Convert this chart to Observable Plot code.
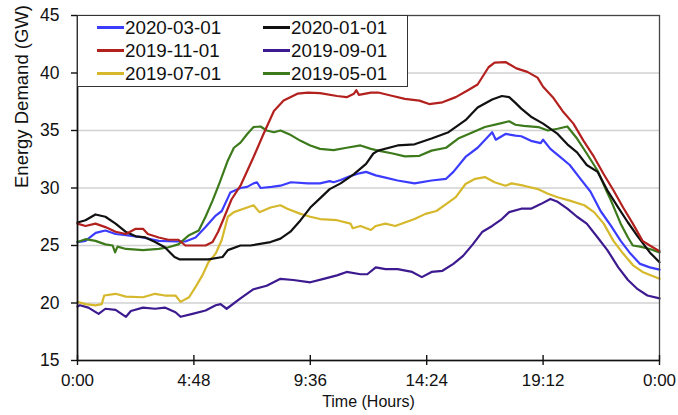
<!DOCTYPE html>
<html>
<head>
<meta charset="utf-8">
<script src="https://cdn.jsdelivr.net/npm/d3@7"></script>
<script src="https://cdn.jsdelivr.net/npm/@observablehq/plot@0.6"></script>
<style>
  html, body { margin: 0; padding: 0; background: #fff; }
  #wrap { position: relative; width: 678px; height: 415px; font-family: "Liberation Sans", Arial, sans-serif; }
  #legend { position: absolute; left: 77px; top: 15px; width: 331px; height: 72px; box-sizing: border-box;
            border: 1.3px solid #333; background: #fff; }
  .item { position: absolute; height: 23px; display: flex; align-items: center; font-size: 18.8px; color: #111; white-space: nowrap; }
  .swatch { display: inline-block; width: 27px; height: 2.4px; margin-right: 1px; }
</style>
</head>
<body>
<div id="wrap"><div id="legend"></div></div>
<script>
// ---- data (hours since midnight, energy demand in GW) ----
const seriesNames = ["2020-03-01", "2020-01-01", "2019-11-01", "2019-09-01", "2019-07-01", "2019-05-01"];
const seriesColors = ["#3c3cff", "#111111", "#b3211f", "#3d1a8f", "#d6b82c", "#3d7a1c"];

const hoursMar2020 = [0, 0.33, 0.75, 1.15, 1.57, 2.0, 2.7, 3.35, 4.04, 4.45, 4.87, 5.28, 5.7, 5.95, 6.3, 6.72, 7.0, 7.26, 7.4, 7.55, 8.0, 8.37, 8.8, 9.5, 10.0, 10.4, 10.56, 10.85, 11.2, 11.67, 11.9, 12.3, 12.7, 13.2, 13.9, 14.6, 15.2, 15.5, 16.0, 16.5, 17.1, 17.25, 17.65, 18.06, 18.3, 18.7, 19.1, 19.2, 19.5, 19.9, 20.3, 20.7, 21.15, 21.57, 22.0, 22.4, 22.8, 23.2, 23.6, 24];
const gwMar2020    = [25.3, 25.4, 26.1, 26.3, 26.0, 25.9, 25.7, 25.4, 25.35, 25.35, 25.7, 26.6, 27.6, 28.0, 29.6, 30.0, 30.1, 30.4, 30.5, 30.0, 30.1, 30.2, 30.5, 30.4, 30.4, 30.6, 30.5, 30.7, 31.0, 31.3, 31.4, 31.1, 30.9, 30.65, 30.4, 30.65, 30.8, 31.4, 32.7, 33.5, 34.85, 34.2, 34.7, 34.55, 34.5, 34.1, 33.9, 34.2, 33.4, 32.7, 32.0, 30.9, 29.7, 28.0, 26.7, 25.4, 24.3, 23.4, 23.1, 22.9];

const hoursJan2020 = [0, 0.33, 0.74, 1.15, 1.57, 1.98, 2.4, 2.8, 3.2, 3.6, 4.0, 4.2, 4.87, 5.4, 5.98, 6.2, 6.72, 7.13, 7.96, 8.37, 8.78, 9.2, 9.6, 10.0, 10.4, 10.85, 11.4, 11.9, 12.2, 12.4, 13.2, 13.9, 14.6, 15.3, 16.0, 16.5, 17.1, 17.5, 17.8, 18.06, 18.3, 18.7, 19.2, 19.8, 20.2, 20.6, 21.0, 21.45, 21.85, 22.3, 22.7, 23.1, 23.6, 24];
const gwJan2020    = [27.0, 27.2, 27.7, 27.5, 26.9, 26.2, 25.8, 25.7, 25.3, 24.85, 24.0, 23.8, 23.8, 23.8, 24.0, 24.6, 25.0, 25.0, 25.3, 25.6, 26.2, 27.2, 28.3, 29.1, 29.9, 30.4, 31.2, 32.1, 33.0, 33.25, 33.7, 33.8, 34.3, 34.85, 35.9, 37.0, 37.7, 38.0, 37.9, 37.4, 36.9, 36.2, 35.6, 34.7, 33.8, 33.1, 32.0, 31.4, 29.8, 28.3, 27.0, 25.8, 24.4, 23.55];

const hoursNov2019 = [0, 0.33, 0.74, 1.15, 1.57, 2.0, 2.4, 2.7, 2.9, 3.35, 3.75, 4.16, 4.45, 4.87, 5.28, 5.57, 5.8, 6.0, 6.35, 6.72, 7.26, 7.67, 8.1, 8.5, 9.07, 9.5, 10.0, 10.7, 11.1, 11.4, 11.5, 11.6, 12.1, 12.4, 13.0, 13.5, 14.1, 14.5, 15.05, 15.6, 16.1, 16.5, 16.95, 17.2, 17.65, 17.9, 18.1, 18.55, 18.97, 19.2, 19.6, 20.0, 20.45, 20.87, 21.3, 21.7, 22.1, 22.5, 22.9, 23.3, 23.6, 24];
const gwNov2019    = [26.9, 26.7, 26.9, 26.6, 26.2, 26.0, 26.45, 26.45, 26.0, 25.7, 25.5, 25.5, 25.0, 25.0, 25.0, 25.3, 26.2, 27.2, 29.0, 30.2, 32.7, 34.7, 36.7, 37.6, 38.2, 38.3, 38.25, 38.0, 37.9, 38.2, 38.5, 38.1, 38.3, 38.3, 38.0, 37.75, 37.6, 37.3, 37.45, 37.9, 38.5, 39.0, 40.5, 40.9, 40.95, 40.65, 40.4, 40.1, 39.6, 38.8, 37.9, 36.7, 35.6, 34.1, 32.7, 31.2, 29.8, 28.3, 26.9, 25.4, 25.0, 24.5];

const hoursSep2019 = [0, 0.1, 0.45, 0.87, 1.15, 1.57, 2.0, 2.2, 2.7, 3.2, 3.6, 4.04, 4.25, 4.74, 5.28, 5.7, 5.9, 6.15, 6.72, 7.26, 7.8, 8.37, 8.9, 9.6, 10.15, 10.7, 11.1, 11.67, 11.95, 12.3, 12.7, 13.2, 13.8, 14.2, 14.6, 15.05, 15.5, 15.9, 16.3, 16.7, 17.1, 17.5, 17.8, 18.3, 18.7, 19.1, 19.5, 19.8, 20.2, 20.6, 21.0, 21.45, 21.85, 22.3, 22.7, 23.1, 23.5, 24];
const gwSep2019    = [19.7, 19.8, 19.6, 19.05, 19.5, 19.4, 18.8, 19.3, 19.6, 19.5, 19.6, 19.2, 18.8, 19.05, 19.35, 19.8, 19.9, 19.5, 20.4, 21.2, 21.5, 22.1, 22.0, 21.8, 22.1, 22.4, 22.7, 22.5, 22.5, 23.1, 22.95, 22.95, 22.7, 22.25, 22.7, 22.8, 23.4, 24.1, 25.1, 26.2, 26.7, 27.3, 27.9, 28.2, 28.2, 28.6, 29.05, 28.8, 28.2, 27.5, 26.9, 25.7, 24.6, 23.1, 22.0, 21.2, 20.65, 20.4];

const hoursJul2019 = [0, 0.33, 0.74, 1.0, 1.1, 1.57, 2.0, 2.7, 3.2, 3.6, 4.04, 4.25, 4.6, 4.87, 5.15, 5.4, 5.7, 5.95, 6.2, 6.45, 6.85, 7.26, 7.5, 7.96, 8.37, 8.65, 9.2, 9.6, 10.0, 10.7, 11.26, 11.35, 11.67, 12.1, 12.3, 12.7, 13.1, 13.5, 13.9, 14.35, 14.8, 15.2, 15.6, 16.0, 16.4, 16.8, 17.2, 17.65, 17.9, 18.4, 19.0, 19.4, 19.8, 20.3, 20.9, 21.3, 21.7, 22.1, 22.5, 22.9, 23.3, 24];
const gwJul2019    = [20.1, 19.9, 19.8, 19.9, 20.65, 20.8, 20.55, 20.5, 20.8, 20.65, 20.65, 20.1, 20.5, 21.4, 22.4, 23.55, 24.3, 25.5, 27.5, 27.9, 28.2, 28.5, 27.9, 28.3, 28.5, 28.2, 27.75, 27.5, 27.3, 27.2, 26.9, 26.5, 26.7, 26.35, 26.7, 26.9, 26.7, 27.0, 27.3, 27.75, 28.0, 28.6, 29.2, 30.35, 30.8, 30.95, 30.5, 30.2, 30.4, 30.2, 29.9, 29.5, 29.2, 28.9, 28.5, 27.9, 26.9, 25.4, 24.3, 23.3, 22.7, 22.1];

const hoursMay2019 = [0, 0.33, 0.74, 1.15, 1.45, 1.55, 1.65, 2.0, 2.7, 3.35, 3.75, 4.16, 4.6, 5.0, 5.28, 5.57, 5.85, 6.2, 6.45, 6.72, 7.0, 7.26, 7.55, 7.8, 8.1, 8.37, 8.8, 9.2, 9.6, 10.0, 10.56, 11.1, 11.67, 12.1, 12.4, 13.0, 13.5, 14.1, 14.6, 15.2, 15.7, 16.3, 16.8, 17.4, 17.8, 18.06, 18.4, 19.0, 19.4, 19.8, 20.2, 20.6, 21.0, 21.45, 21.8, 22.0, 22.4, 22.7, 22.9, 23.2, 23.6, 24];
const gwMay2019    = [25.3, 25.55, 25.4, 25.1, 25.0, 24.4, 24.9, 24.7, 24.6, 24.7, 24.85, 25.1, 25.9, 26.3, 27.5, 28.9, 30.4, 32.4, 33.5, 33.95, 34.7, 35.3, 35.35, 35.0, 34.85, 35.0, 34.6, 34.1, 33.7, 33.4, 33.3, 33.5, 33.7, 33.4, 33.25, 33.0, 32.75, 32.8, 33.25, 33.5, 34.3, 34.85, 35.3, 35.6, 35.8, 35.5, 35.4, 35.3, 35.0, 35.15, 35.35, 34.3, 33.0, 31.5, 29.8, 28.9, 26.9, 25.7, 25.0, 24.9, 24.7, 24.4];

const xTicks = [0, 4.8, 9.6, 14.4, 19.2, 24];
const xTickLabels = ["0:00", "4:48", "9:36", "14:24", "19:12", "0:00"];
const yTicks = [15, 20, 25, 30, 35, 40, 45];
const yGrid = [20, 25, 30, 35, 40];

// ---- build table ----
const hourSets = [hoursMar2020, hoursJan2020, hoursNov2019, hoursSep2019, hoursJul2019, hoursMay2019];
const gwSets = [gwMar2020, gwJan2020, gwNov2019, gwSep2019, gwJul2019, gwMay2019];
const drawOrder = [3, 4, 0, 5, 1, 2];

const lineMarks = drawOrder.map(k => {
  const rows = hourSets[k].map((h, i) => ({h, v: gwSets[k][i]}));
  return Plot.line(rows, {x: "h", y: "v", stroke: seriesColors[k], strokeWidth: 2.2, strokeLinejoin: "round"});
});

const chart = Plot.plot({
  width: 678,
  height: 415,
  marginLeft: 77,
  marginRight: 19,
  marginTop: 15,
  marginBottom: 55,
  style: {fontFamily: "'Liberation Sans', Arial, sans-serif", fontSize: "17px", color: "#111", background: "#fff", overflow: "visible"},
  x: {domain: [0, 24]},
  y: {domain: [15, 45]},
  marks: [
    Plot.ruleY(yGrid, {stroke: "#d2d2d2", strokeWidth: 1.3}),
    ...lineMarks,
    Plot.frame({stroke: "#444", strokeWidth: 1.3}),
    Plot.ruleX([0], {stroke: "#111", strokeWidth: 1.6}),
    Plot.ruleY([15], {stroke: "#111", strokeWidth: 1.6}),
    Plot.axisY({ticks: yTicks, tickSize: 6, tickPadding: 12, tickFormat: d => String(d), label: null, fontSize: 17.5, strokeWidth: 1.4}),
    Plot.axisX({ticks: xTicks, tickSize: 5, tickPadding: 8, tickFormat: d => xTickLabels[xTicks.indexOf(d)], label: null, fontSize: 17, strokeWidth: 1.4}),
    Plot.ruleX(xTicks, {y1: 15, y2: 15, insetTop: -5, insetBottom: 0, stroke: "#111", strokeWidth: 1.4}),
    Plot.text(["Time (Hours)"], {frameAnchor: "bottom", dy: 46, lineAnchor: "bottom", fontSize: 16, fill: "#111"}),
    Plot.text(["Energy Demand (GW)"], {frameAnchor: "left", dx: -55, rotate: -90, fontSize: 18.5, fill: "#111"})
  ]
});

const wrap = document.getElementById("wrap");
wrap.insertBefore(chart, wrap.firstChild);

// ---- legend (2 columns x 3 rows) ----
const legend = document.getElementById("legend");
seriesNames.forEach((name, k) => {
  const col = k % 2, row = Math.floor(k / 2);
  const item = document.createElement("div");
  item.className = "item";
  item.style.left = (col === 0 ? 19 : 185) + "px";
  item.style.top = (row * 23) + "px";
  const sw = document.createElement("span");
  sw.className = "swatch";
  sw.style.background = seriesColors[k];
  const tx = document.createElement("span");
  tx.textContent = name;
  item.appendChild(sw);
  item.appendChild(tx);
  legend.appendChild(item);
});
</script>
</body>
</html>
